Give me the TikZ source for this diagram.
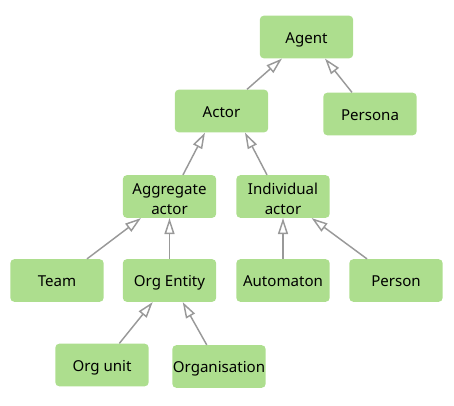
\documentclass[tikz,border=0pt]{standalone}
\usepackage{fontspec}
\setmainfont{Noto Sans}
\usetikzlibrary{arrows.meta}
\definecolor{boxgreen}{HTML}{ADDE8E}
\definecolor{edgegray}{HTML}{999999}
\newcommand{\firstlinestrut}{\rule{0pt}{12.3pt}}
\tikzset{
  cls/.style={fill=boxgreen, draw=none, rounded corners=3pt, minimum width=70pt,
    minimum height=32pt, inner sep=0pt, align=center, text=black,
    text height=9.8pt, text depth=0.2pt,
    font=\fontsize{11.3}{15}\selectfont},
  clstwo/.style={cls, text height={}, text depth={}},
  isa/.style={draw=edgegray, line width=1.1pt,
    -{Triangle[open, length=12pt, width=7.5pt, line width=1.1pt]}}
}
\begin{document}
\begin{tikzpicture}[x=0.75pt, y=-0.75pt]
\useasboundingbox (0,0) rectangle (454,406);
\node[cls] (agent) at (306.5,37) {Agent};
\node[cls] (actor) at (221.5,111) {Actor};
\node[cls] (persona) at (370,114) {Persona};
\node[clstwo] (aggr) at (169.5,196.5) {\firstlinestrut Aggregate\\actor};
\node[clstwo] (indiv) at (283,196.5) {\firstlinestrut Individual\\actor};
\node[cls] (team) at (57,280.5) {Team};
\node[cls] (orgent) at (169.5,280.5) {Org Entity};
\node[cls] (autom) at (283,280.5) {Automaton};
\node[cls] (person) at (396,280.5) {Person};
\node[cls] (orgunit) at (102,365) {Org unit};
\node[cls] (organ) at (219,366.5) {Organisation};

\draw[isa] ([xshift=19.1pt]actor.north) -- ([xshift=-18.4pt]agent.south);
\draw[isa] ([xshift=-13.5pt]persona.north) -- ([xshift=13.9pt]agent.south);
\draw[isa] ([xshift=10.1pt]aggr.north) -- ([xshift=-12.4pt]actor.south);
\draw[isa] ([xshift=-12pt]indiv.north) -- ([xshift=17.6pt]actor.south);
\draw[isa] ([xshift=22.5pt]team.north) -- ([xshift=-21.4pt]aggr.south);
\draw[isa] (orgent.north) -- (aggr.south);
\draw[isa] (autom.north) -- (indiv.south);
\draw[isa] ([xshift=-21.75pt]person.north) -- ([xshift=21.5pt]indiv.south);
\draw[isa] ([xshift=13pt]orgunit.north) -- ([xshift=-12.6pt]orgent.south);
\draw[isa] ([xshift=-9.2pt]organ.north) -- ([xshift=9.9pt]orgent.south);
\end{tikzpicture}
\end{document}
